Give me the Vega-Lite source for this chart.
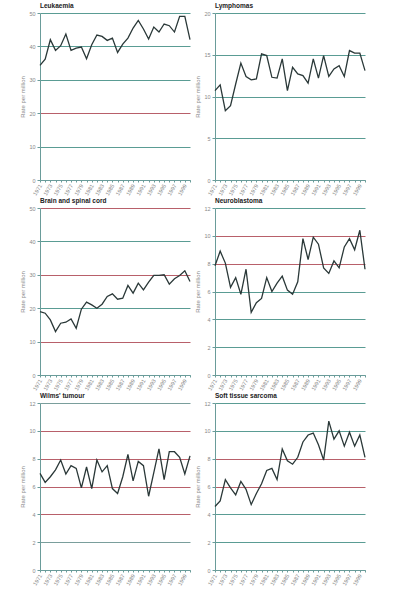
{
  "$schema": "https://vega.github.io/schema/vega-lite/v6.json",
  "padding": {"left": 19, "top": 2, "right": 5, "bottom": 5},
  "background": "white",
  "datasets": {
    "rates": [
      {"cancer":"Leukaemia","year":1971,"rate":34.3},{"cancer":"Leukaemia","year":1972,"rate":36.2},{"cancer":"Leukaemia","year":1973,"rate":42},{"cancer":"Leukaemia","year":1974,"rate":38.8},{"cancer":"Leukaemia","year":1975,"rate":40.2},{"cancer":"Leukaemia","year":1976,"rate":43.7},{"cancer":"Leukaemia","year":1977,"rate":38.8},{"cancer":"Leukaemia","year":1978,"rate":39.5},{"cancer":"Leukaemia","year":1979,"rate":39.8},{"cancer":"Leukaemia","year":1980,"rate":36.3},{"cancer":"Leukaemia","year":1981,"rate":40.5},{"cancer":"Leukaemia","year":1982,"rate":43.4},{"cancer":"Leukaemia","year":1983,"rate":43},{"cancer":"Leukaemia","year":1984,"rate":41.8},{"cancer":"Leukaemia","year":1985,"rate":42.5},{"cancer":"Leukaemia","year":1986,"rate":38.2},{"cancer":"Leukaemia","year":1987,"rate":40.7},{"cancer":"Leukaemia","year":1988,"rate":42.5},{"cancer":"Leukaemia","year":1989,"rate":45.5},{"cancer":"Leukaemia","year":1990,"rate":47.8},{"cancer":"Leukaemia","year":1991,"rate":45.2},{"cancer":"Leukaemia","year":1992,"rate":42.2},{"cancer":"Leukaemia","year":1993,"rate":45.8},{"cancer":"Leukaemia","year":1994,"rate":44.3},{"cancer":"Leukaemia","year":1995,"rate":46.7},{"cancer":"Leukaemia","year":1996,"rate":46.2},{"cancer":"Leukaemia","year":1997,"rate":44.3},{"cancer":"Leukaemia","year":1998,"rate":49},{"cancer":"Leukaemia","year":1999,"rate":49},{"cancer":"Leukaemia","year":2000,"rate":42},
      {"cancer":"Lymphomas","year":1971,"rate":10.7},{"cancer":"Lymphomas","year":1972,"rate":11.4},{"cancer":"Lymphomas","year":1973,"rate":8.3},{"cancer":"Lymphomas","year":1974,"rate":8.9},{"cancer":"Lymphomas","year":1975,"rate":11.5},{"cancer":"Lymphomas","year":1976,"rate":14.0},{"cancer":"Lymphomas","year":1977,"rate":12.4},{"cancer":"Lymphomas","year":1978,"rate":12.0},{"cancer":"Lymphomas","year":1979,"rate":12.1},{"cancer":"Lymphomas","year":1980,"rate":15.1},{"cancer":"Lymphomas","year":1981,"rate":14.9},{"cancer":"Lymphomas","year":1982,"rate":12.3},{"cancer":"Lymphomas","year":1983,"rate":12.2},{"cancer":"Lymphomas","year":1984,"rate":14.5},{"cancer":"Lymphomas","year":1985,"rate":10.7},{"cancer":"Lymphomas","year":1986,"rate":13.5},{"cancer":"Lymphomas","year":1987,"rate":12.7},{"cancer":"Lymphomas","year":1988,"rate":12.5},{"cancer":"Lymphomas","year":1989,"rate":11.6},{"cancer":"Lymphomas","year":1990,"rate":14.5},{"cancer":"Lymphomas","year":1991,"rate":12.2},{"cancer":"Lymphomas","year":1992,"rate":14.9},{"cancer":"Lymphomas","year":1993,"rate":12.4},{"cancer":"Lymphomas","year":1994,"rate":13.3},{"cancer":"Lymphomas","year":1995,"rate":13.7},{"cancer":"Lymphomas","year":1996,"rate":12.4},{"cancer":"Lymphomas","year":1997,"rate":15.5},{"cancer":"Lymphomas","year":1998,"rate":15.2},{"cancer":"Lymphomas","year":1999,"rate":15.2},{"cancer":"Lymphomas","year":2000,"rate":13.1},
      {"cancer":"Brain","year":1971,"rate":19},{"cancer":"Brain","year":1972,"rate":18.5},{"cancer":"Brain","year":1973,"rate":16.5},{"cancer":"Brain","year":1974,"rate":13},{"cancer":"Brain","year":1975,"rate":15.5},{"cancer":"Brain","year":1976,"rate":15.8},{"cancer":"Brain","year":1977,"rate":16.8},{"cancer":"Brain","year":1978,"rate":14},{"cancer":"Brain","year":1979,"rate":19.7},{"cancer":"Brain","year":1980,"rate":21.8},{"cancer":"Brain","year":1981,"rate":21},{"cancer":"Brain","year":1982,"rate":20},{"cancer":"Brain","year":1983,"rate":21.2},{"cancer":"Brain","year":1984,"rate":23.5},{"cancer":"Brain","year":1985,"rate":24.3},{"cancer":"Brain","year":1986,"rate":22.7},{"cancer":"Brain","year":1987,"rate":23},{"cancer":"Brain","year":1988,"rate":26.8},{"cancer":"Brain","year":1989,"rate":24.5},{"cancer":"Brain","year":1990,"rate":27.5},{"cancer":"Brain","year":1991,"rate":25.5},{"cancer":"Brain","year":1992,"rate":27.8},{"cancer":"Brain","year":1993,"rate":29.8},{"cancer":"Brain","year":1994,"rate":29.8},{"cancer":"Brain","year":1995,"rate":30},{"cancer":"Brain","year":1996,"rate":27.2},{"cancer":"Brain","year":1997,"rate":28.8},{"cancer":"Brain","year":1998,"rate":29.8},{"cancer":"Brain","year":1999,"rate":31.2},{"cancer":"Brain","year":2000,"rate":28},
      {"cancer":"Neuroblastoma","year":1971,"rate":7.85},{"cancer":"Neuroblastoma","year":1972,"rate":8.9},{"cancer":"Neuroblastoma","year":1973,"rate":8.04},{"cancer":"Neuroblastoma","year":1974,"rate":6.3},{"cancer":"Neuroblastoma","year":1975,"rate":7.0},{"cancer":"Neuroblastoma","year":1976,"rate":5.8},{"cancer":"Neuroblastoma","year":1977,"rate":7.6},{"cancer":"Neuroblastoma","year":1978,"rate":4.5},{"cancer":"Neuroblastoma","year":1979,"rate":5.2},{"cancer":"Neuroblastoma","year":1980,"rate":5.5},{"cancer":"Neuroblastoma","year":1981,"rate":7.0},{"cancer":"Neuroblastoma","year":1982,"rate":6.0},{"cancer":"Neuroblastoma","year":1983,"rate":6.6},{"cancer":"Neuroblastoma","year":1984,"rate":7.1},{"cancer":"Neuroblastoma","year":1985,"rate":6.1},{"cancer":"Neuroblastoma","year":1986,"rate":5.8},{"cancer":"Neuroblastoma","year":1987,"rate":6.7},{"cancer":"Neuroblastoma","year":1988,"rate":9.8},{"cancer":"Neuroblastoma","year":1989,"rate":8.3},{"cancer":"Neuroblastoma","year":1990,"rate":9.9},{"cancer":"Neuroblastoma","year":1991,"rate":9.4},{"cancer":"Neuroblastoma","year":1992,"rate":7.7},{"cancer":"Neuroblastoma","year":1993,"rate":7.3},{"cancer":"Neuroblastoma","year":1994,"rate":8.2},{"cancer":"Neuroblastoma","year":1995,"rate":7.7},{"cancer":"Neuroblastoma","year":1996,"rate":9.2},{"cancer":"Neuroblastoma","year":1997,"rate":9.8},{"cancer":"Neuroblastoma","year":1998,"rate":9.0},{"cancer":"Neuroblastoma","year":1999,"rate":10.4},{"cancer":"Neuroblastoma","year":2000,"rate":7.6},
      {"cancer":"Wilms","year":1971,"rate":6.94},{"cancer":"Wilms","year":1972,"rate":6.3},{"cancer":"Wilms","year":1973,"rate":6.7},{"cancer":"Wilms","year":1974,"rate":7.2},{"cancer":"Wilms","year":1975,"rate":7.9},{"cancer":"Wilms","year":1976,"rate":6.9},{"cancer":"Wilms","year":1977,"rate":7.5},{"cancer":"Wilms","year":1978,"rate":7.3},{"cancer":"Wilms","year":1979,"rate":5.9},{"cancer":"Wilms","year":1980,"rate":7.4},{"cancer":"Wilms","year":1981,"rate":5.85},{"cancer":"Wilms","year":1982,"rate":7.9},{"cancer":"Wilms","year":1983,"rate":7.05},{"cancer":"Wilms","year":1984,"rate":7.5},{"cancer":"Wilms","year":1985,"rate":5.85},{"cancer":"Wilms","year":1986,"rate":5.5},{"cancer":"Wilms","year":1987,"rate":6.7},{"cancer":"Wilms","year":1988,"rate":8.3},{"cancer":"Wilms","year":1989,"rate":6.4},{"cancer":"Wilms","year":1990,"rate":7.8},{"cancer":"Wilms","year":1991,"rate":7.5},{"cancer":"Wilms","year":1992,"rate":5.3},{"cancer":"Wilms","year":1993,"rate":7.0},{"cancer":"Wilms","year":1994,"rate":8.7},{"cancer":"Wilms","year":1995,"rate":6.5},{"cancer":"Wilms","year":1996,"rate":8.5},{"cancer":"Wilms","year":1997,"rate":8.5},{"cancer":"Wilms","year":1998,"rate":8.1},{"cancer":"Wilms","year":1999,"rate":6.9},{"cancer":"Wilms","year":2000,"rate":8.2},
      {"cancer":"Soft","year":1971,"rate":4.56},{"cancer":"Soft","year":1972,"rate":4.97},{"cancer":"Soft","year":1973,"rate":6.5},{"cancer":"Soft","year":1974,"rate":5.9},{"cancer":"Soft","year":1975,"rate":5.4},{"cancer":"Soft","year":1976,"rate":6.36},{"cancer":"Soft","year":1977,"rate":5.8},{"cancer":"Soft","year":1978,"rate":4.7},{"cancer":"Soft","year":1979,"rate":5.5},{"cancer":"Soft","year":1980,"rate":6.2},{"cancer":"Soft","year":1981,"rate":7.15},{"cancer":"Soft","year":1982,"rate":7.3},{"cancer":"Soft","year":1983,"rate":6.5},{"cancer":"Soft","year":1984,"rate":8.7},{"cancer":"Soft","year":1985,"rate":7.85},{"cancer":"Soft","year":1986,"rate":7.6},{"cancer":"Soft","year":1987,"rate":8.1},{"cancer":"Soft","year":1988,"rate":9.2},{"cancer":"Soft","year":1989,"rate":9.7},{"cancer":"Soft","year":1990,"rate":9.84},{"cancer":"Soft","year":1991,"rate":9.0},{"cancer":"Soft","year":1992,"rate":7.9},{"cancer":"Soft","year":1993,"rate":10.7},{"cancer":"Soft","year":1994,"rate":9.4},{"cancer":"Soft","year":1995,"rate":10.0},{"cancer":"Soft","year":1996,"rate":8.9},{"cancer":"Soft","year":1997,"rate":9.9},{"cancer":"Soft","year":1998,"rate":8.9},{"cancer":"Soft","year":1999,"rate":9.7},{"cancer":"Soft","year":2000,"rate":8.1}
    ]
  },
  "data": {"name": "rates"},
  "columns": 2,
  "spacing": {"row": 28, "column": 25},
  "bounds": "flush",
  "concat": [
    {
      "width": 150, "height": 167,
      "title": "Leukaemia",
      "transform": [{"filter": "datum.cancer == 'Leukaemia'"}],
      "mark": {"type": "line", "color": "#2a3838", "strokeWidth": 1.3},
      "encoding": {
        "x": {"field": "year", "type": "quantitative", "scale": {"domain": [1971, 2000]},
              "axis": {"values": [1971,1972,1973,1974,1975,1976,1977,1978,1979,1980,1981,1982,1983,1984,1985,1986,1987,1988,1989,1990,1991,1992,1993,1994,1995,1996,1997,1998,1999,2000], "format": "d", "labelExpr": "(datum.value - 1971) % 2 == 0 ? datum.label : ''"}},
        "y": {"field": "rate", "type": "quantitative", "scale": {"domain": [0, 50]},
              "axis": {"values": [0, 10, 20, 30, 40, 50], "title": "Rate per million",
                       "gridColor": {"condition": {"test": "datum.value == 20", "value": "#b8606a"}, "value": "#5a9c94"}}}
      }
    },
    {
      "width": 150, "height": 167,
      "title": "Lymphomas",
      "transform": [{"filter": "datum.cancer == 'Lymphomas'"}],
      "mark": {"type": "line", "color": "#2a3838", "strokeWidth": 1.3},
      "encoding": {
        "x": {"field": "year", "type": "quantitative", "scale": {"domain": [1971, 2000]},
              "axis": {"values": [1971,1972,1973,1974,1975,1976,1977,1978,1979,1980,1981,1982,1983,1984,1985,1986,1987,1988,1989,1990,1991,1992,1993,1994,1995,1996,1997,1998,1999,2000], "format": "d", "labelExpr": "(datum.value - 1971) % 2 == 0 ? datum.label : ''"}},
        "y": {"field": "rate", "type": "quantitative", "scale": {"domain": [0, 20]},
              "axis": {"values": [0, 5, 10, 15, 20], "title": "Rate per million", "gridColor": "#5a9c94"}}
      }
    },
    {
      "width": 150, "height": 167,
      "title": "Brain and spinal cord",
      "transform": [{"filter": "datum.cancer == 'Brain'"}],
      "mark": {"type": "line", "color": "#2a3838", "strokeWidth": 1.3},
      "encoding": {
        "x": {"field": "year", "type": "quantitative", "scale": {"domain": [1971, 2000]},
              "axis": {"values": [1971,1972,1973,1974,1975,1976,1977,1978,1979,1980,1981,1982,1983,1984,1985,1986,1987,1988,1989,1990,1991,1992,1993,1994,1995,1996,1997,1998,1999,2000], "format": "d", "labelExpr": "(datum.value - 1971) % 2 == 0 ? datum.label : ''"}},
        "y": {"field": "rate", "type": "quantitative", "scale": {"domain": [0, 50]},
              "axis": {"values": [0, 10, 20, 30, 40, 50], "title": "Rate per million",
                       "gridColor": {"condition": {"test": "datum.value == 10 || datum.value == 30 || datum.value == 50", "value": "#b8606a"}, "value": "#5a9c94"}}}
      }
    },
    {
      "width": 150, "height": 167,
      "title": "Neuroblastoma",
      "transform": [{"filter": "datum.cancer == 'Neuroblastoma'"}],
      "mark": {"type": "line", "color": "#2a3838", "strokeWidth": 1.3},
      "encoding": {
        "x": {"field": "year", "type": "quantitative", "scale": {"domain": [1971, 2000]},
              "axis": {"values": [1971,1972,1973,1974,1975,1976,1977,1978,1979,1980,1981,1982,1983,1984,1985,1986,1987,1988,1989,1990,1991,1992,1993,1994,1995,1996,1997,1998,1999,2000], "format": "d", "labelExpr": "(datum.value - 1971) % 2 == 0 ? datum.label : ''"}},
        "y": {"field": "rate", "type": "quantitative", "scale": {"domain": [0, 12]},
              "axis": {"values": [0, 2, 4, 6, 8, 10, 12], "title": "Rate per million",
                       "gridColor": {"condition": {"test": "datum.value == 10 || datum.value == 8", "value": "#b8606a"}, "value": "#5a9c94"}}}
      }
    },
    {
      "width": 150, "height": 167,
      "title": "Wilms' tumour",
      "transform": [{"filter": "datum.cancer == 'Wilms'"}],
      "mark": {"type": "line", "color": "#2a3838", "strokeWidth": 1.3},
      "encoding": {
        "x": {"field": "year", "type": "quantitative", "scale": {"domain": [1971, 2000]},
              "axis": {"values": [1971,1972,1973,1974,1975,1976,1977,1978,1979,1980,1981,1982,1983,1984,1985,1986,1987,1988,1989,1990,1991,1992,1993,1994,1995,1996,1997,1998,1999,2000], "format": "d", "labelExpr": "(datum.value - 1971) % 2 == 0 ? datum.label : ''"}},
        "y": {"field": "rate", "type": "quantitative", "scale": {"domain": [0, 12]},
              "axis": {"values": [0, 2, 4, 6, 8, 10, 12], "title": "Rate per million",
                       "gridColor": {"condition": {"test": "datum.value == 4 || datum.value == 6 || datum.value == 8 || datum.value == 10", "value": "#b8606a"}, "value": "#7a9e9c"}}}
      }
    },
    {
      "width": 150, "height": 167,
      "title": "Soft tissue sarcoma",
      "transform": [{"filter": "datum.cancer == 'Soft'"}],
      "mark": {"type": "line", "color": "#2a3838", "strokeWidth": 1.3},
      "encoding": {
        "x": {"field": "year", "type": "quantitative", "scale": {"domain": [1971, 2000]},
              "axis": {"values": [1971,1972,1973,1974,1975,1976,1977,1978,1979,1980,1981,1982,1983,1984,1985,1986,1987,1988,1989,1990,1991,1992,1993,1994,1995,1996,1997,1998,1999,2000], "format": "d", "labelExpr": "(datum.value - 1971) % 2 == 0 ? datum.label : ''"}},
        "y": {"field": "rate", "type": "quantitative", "scale": {"domain": [0, 12]},
              "axis": {"values": [0, 2, 4, 6, 8, 10, 12], "title": "Rate per million",
                       "gridColor": {"condition": {"test": "datum.value == 8 || datum.value == 6", "value": "#b8606a"}, "value": "#5a9c94"}}}
      }
    }
  ],
  "config": {
    "view": {"stroke": null},
    "font": "Liberation Sans",
    "title": {"anchor": "start", "frame": "group", "fontSize": 6.5, "fontWeight": "bold", "font": "Liberation Sans Narrow, Liberation Sans", "color": "#222222", "offset": 2},
    "axis": {
      "labelFont": "Liberation Sans", "labelFontSize": 5.5, "labelColor": "#888888",
      "titleFont": "Liberation Sans", "titleFontSize": 6, "titleFontWeight": "normal", "titleColor": "#8a8a8a",
      "domainColor": "#6a9c9a", "tickColor": "#6a9c9a", "tickSize": 3, "domainWidth": 1, "gridWidth": 1
    },
    "axisX": {
      "grid": false, "title": null,
      "labelAngle": -60, "labelAlign": "right", "labelBaseline": "middle", "labelPadding": 2, "labelOverlap": false, "labelFlush": false, "tickSize": 2
    },
    "axisY": {"grid": true, "labelPadding": 2, "titlePadding": 3, "labelFlush": false}
  }
}
